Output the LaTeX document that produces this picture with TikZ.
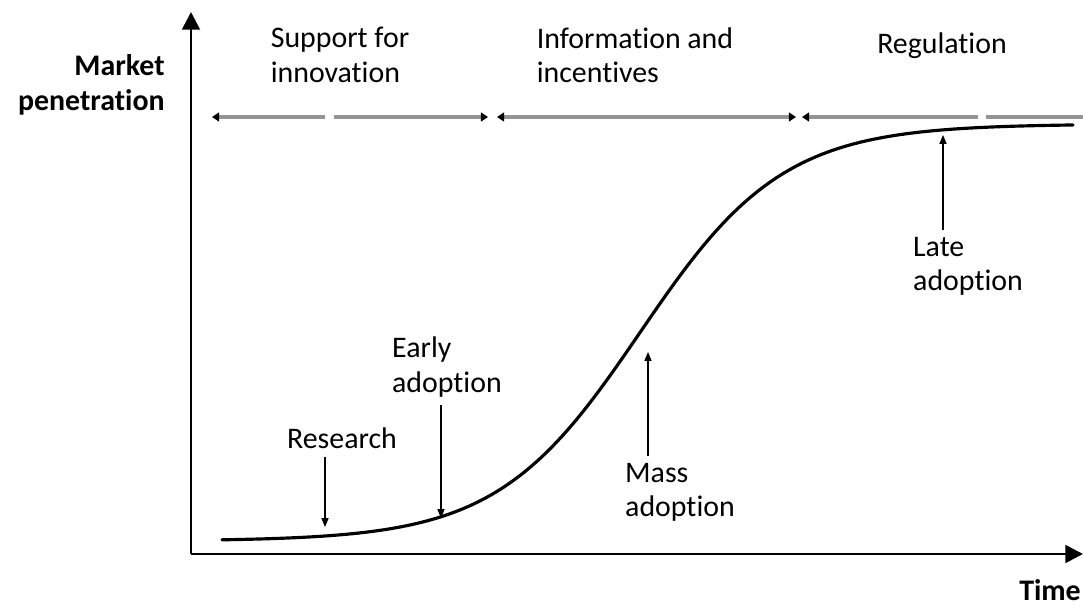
\documentclass[tikz,border=0pt]{standalone}
\usepackage{fontspec}
\setmainfont[Ligatures=NoCommon]{Carlito}
\usepackage{tikz}
\usetikzlibrary{positioning,calc,arrows.meta}

\tikzset{
    axis/.style={line width=1.6pt,-{Triangle[length=10pt,width=10pt]}},
    phase/.style={line width=2pt,draw=black!42},
    phasetip/.tip={Triangle[length=4pt,width=5pt,color=black]},
    pointer/.style={line width=0.6pt,-{Triangle[length=5pt,width=4pt]}},
    label/.style={align=left,inner sep=1pt},
    adoption/.style={line width=1.8pt,line cap=round}
}

\begin{document}
\begin{tikzpicture}[font=\fontsize{17}{19.5}\selectfont]
    \useasboundingbox (-3.82,-1.04) rectangle (17.84,11.08);

    % axes
    \coordinate (O) at (0,0);
    \coordinate (ytop) at (0,10.84);
    \coordinate (xend) at (17.84,0);
    \draw[axis] (O) -- (ytop);
    \draw[axis] (O) -- (xend);
    \node[font=\fontsize{17}{19.5}\selectfont\bfseries,align=right,anchor=east,inner sep=0pt] (ylab) at (-0.52,9.38) {Market\\penetration};
    \node[font=\fontsize{17}{19.5}\selectfont\bfseries] (xlab) at (17.18,-0.72) {Time};

    % policy phases
    \node[label] (support) at (2.98,9.98) {Support for\\innovation};
    \node[label] (info) at (8.88,9.98) {Information and\\incentives};
    \node[label] (regul) at (15.02,10.16) {Regulation};

    \coordinate (b0) at (0.42,8.74);
    \coordinate (g0) at (2.68,8.74);
    \coordinate (g1) at (2.86,8.74);
    \coordinate (b1) at (5.94,8.74);
    \coordinate (b2) at (6.12,8.74);
    \coordinate (b3) at (12.10,8.74);
    \coordinate (b4) at (12.22,8.74);
    \coordinate (g2) at (15.74,8.74);
    \coordinate (g3) at (15.90,8.74);
    \coordinate (b5) at (17.84,8.74);
    \draw[phase,{phasetip}-] (b0) -- (g0);
    \draw[phase,-{phasetip}] (g1) -- (b1);
    \draw[phase,{phasetip}-{phasetip}] (b2) -- (b3);
    \draw[phase,{phasetip}-] (b4) -- (g2);
    \draw[phase] (g3) -- (b5);

    % S-curve
    \draw[adoption] plot[domain=0.62:17.64,samples=150,smooth] (\x,{0.26+8.34/(1+exp(-0.7*(\x-8.98)))});

    % stages
    \node[label] (research) at (3.02,2.32) {Research};
    \coordinate (restip) at (2.68,0.54);
    \draw[pointer] (research.south -| restip) ++(0,-0.12) -- (restip);

    \node[label] (early) at (5.12,3.74) {Early\\adoption};
    \coordinate (earlytip) at (5.0,0.72);
    \draw[pointer] (early.south -| earlytip) ++(0,-0.12) -- (earlytip);

    \node[label] (mass) at (9.78,1.24) {Mass\\adoption};
    \coordinate (masstip) at (9.14,4.04);
    \draw[pointer] (mass.north -| masstip) ++(0,0.1) -- (masstip);

    \node[label] (late) at (15.54,5.76) {Late\\adoption};
    \coordinate (latetip) at (15.04,8.38);
    \draw[pointer] (late.north -| latetip) ++(0,0.1) -- (latetip);
\end{tikzpicture}
\end{document}
